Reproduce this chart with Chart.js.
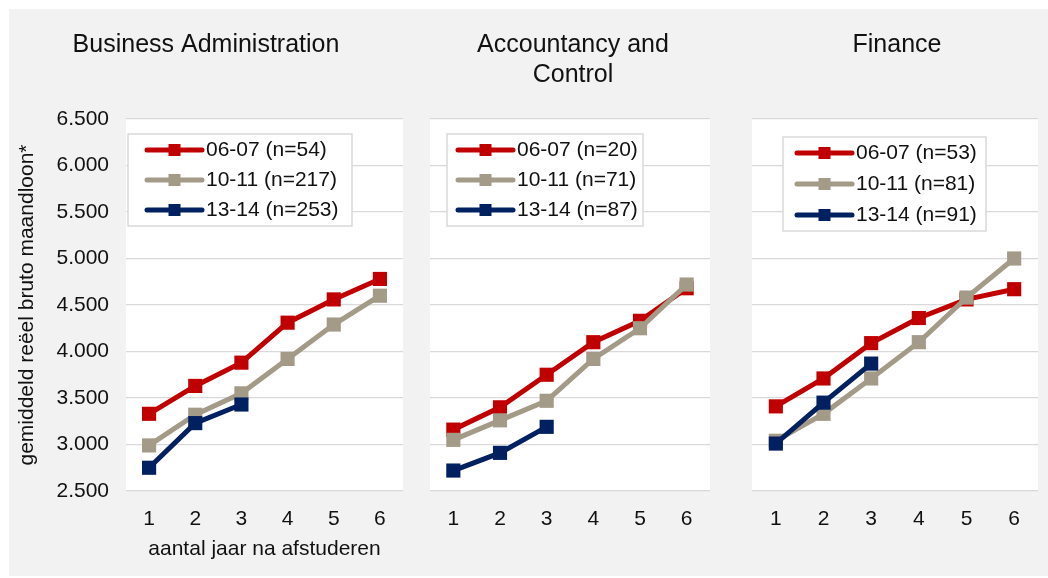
<!DOCTYPE html>
<html>
<head>
<meta charset="utf-8">
<script src="https://cdn.jsdelivr.net/npm/chart.js@4"></script>
<style>
  html, body { margin: 0; padding: 0; background: #fff; }
  #wrap { position: relative; width: 1048px; height: 578px; overflow: hidden; }
  #bg { position: absolute; left: 9px; top: 9px; width: 1039px; height: 567px; background: #f2f2f2; }
  canvas { position: absolute; top: 0; }
</style>
</head>
<body>
<div id="wrap">
  <div id="bg"></div>
  <canvas id="ba" width="414" height="578" style="left:0px"></canvas>
  <canvas id="ac" width="300" height="578" style="left:420px"></canvas>
  <canvas id="fi" width="308" height="578" style="left:740px"></canvas>
</div>
<script>
// years after graduation
const years = ['1', '2', '3', '4', '5', '6'];
const yTicks = [2500, 3000, 3500, 4000, 4500, 5000, 5500, 6000, 6500];

// Business Administration
const baLabels = ['06-07 (n=54)', '10-11 (n=217)', '13-14 (n=253)'];
const ba0607 = [3330, 3630, 3880, 4310, 4560, 4780];
const ba1011 = [2990, 3320, 3550, 3920, 4290, 4600];
const ba1314 = [2750, 3230, 3430];

// Accountancy and Control
const acLabels = ['06-07 (n=20)', '10-11 (n=71)', '13-14 (n=87)'];
const ac0607 = [3160, 3400, 3750, 4100, 4330, 4680];
const ac1011 = [3050, 3260, 3470, 3920, 4250, 4720];
const ac1314 = [2720, 2910, 3190];

// Finance
const fiLabels = ['06-07 (n=53)', '10-11 (n=81)', '13-14 (n=91)'];
const fi0607 = [3410, 3710, 4090, 4360, 4560, 4670];
const fi1011 = [3040, 3330, 3710, 4100, 4580, 5000];
const fi1314 = [3010, 3450, 3870];

const RED = '#c00000', GREY = '#a39a87', NAVY = '#002060';
const FONT = '"Liberation Sans", Arial, sans-serif';
const TXT = '#111111';
const GRID = '#d9d9d9';

Chart.defaults.font.family = FONT;
Chart.defaults.color = TXT;

const dotsep = v => String(v).replace(/\B(?=(\d{3})+(?!\d))/g, '.');

// white plot area behind the grid
const plotBg = {
  id: 'plotBg',
  beforeDraw(chart) {
    const a = chart.chartArea, ctx = chart.ctx;
    ctx.save();
    ctx.fillStyle = '#ffffff';
    ctx.fillRect(a.left, a.top, a.right - a.left, a.bottom - a.top);
    ctx.restore();
  }
};

// legend box inside the plot area, Excel style
const boxLegend = {
  id: 'boxLegend',
  afterDraw(chart, args, o) {
    const a = chart.chartArea, ctx = chart.ctx;
    const bx = a.left + o.x, by = a.top + o.y;
    ctx.save();
    ctx.fillStyle = '#ffffff';
    ctx.fillRect(bx, by, o.w, o.h);
    ctx.strokeStyle = GRID;
    ctx.lineWidth = 1.5;
    ctx.strokeRect(bx, by, o.w, o.h);
    chart.data.datasets.forEach((ds, i) => {
      const y = by + o.first + i * o.gap;
      const x0 = bx + o.lineX, x1 = x0 + 55;
      ctx.strokeStyle = ds.borderColor;
      ctx.lineWidth = 5;
      ctx.lineCap = 'round';
      ctx.beginPath();
      ctx.moveTo(x0, y);
      ctx.lineTo(x1, y);
      ctx.stroke();
      ctx.fillStyle = ds.borderColor;
      ctx.fillRect((x0 + x1) / 2 - 6, y - 6, 12, 12);
      ctx.fillStyle = TXT;
      ctx.font = '21px ' + FONT;
      ctx.textBaseline = 'middle';
      ctx.textAlign = 'left';
      ctx.fillText(ds.label, x1 + 4, y);
    });
    ctx.restore();
  }
};

function series(label, data, color, order) {
  return {
    label, data, order,
    borderColor: color,
    backgroundColor: color,
    borderWidth: 5,
    pointStyle: 'rect',
    pointRadius: 10,
    pointHoverRadius: 10,
    pointBorderWidth: 0,
    tension: 0
  };
}

function makePanel(id, title, labels, s1, s2, s3, cfg) {
  new Chart(document.getElementById(id), {
    type: 'line',
    data: {
      labels: years,
      datasets: [
        series(labels[0], s1, RED, 3),
        series(labels[1], s2, GREY, 2),
        series(labels[2], s3, NAVY, 1)
      ]
    },
    options: {
      responsive: false,
      animation: false,
      events: [],
      layout: { padding: cfg.pad },
      plugins: {
        legend: { display: false },
        tooltip: { enabled: false },
        title: {
          display: true,
          text: title,
          color: TXT,
          font: { size: 25, weight: 'normal', lineHeight: 1.2 },
          padding: { top: 30, bottom: cfg.titleBottom }
        },
        boxLegend: cfg.legend
      },
      scales: {
        x: {
          offset: true,
          grid: { display: false },
          border: { display: false },
          ticks: { padding: 8, font: { size: 21 }, color: TXT },
          title: {
            display: !!cfg.xTitle,
            text: cfg.xTitle || '',
            color: TXT,
            font: { size: 21 },
            padding: { top: 0, bottom: 16 }
          },
          afterFit(s) { s.height = 87; }
        },
        y: {
          min: yTicks[0],
          max: yTicks[yTicks.length - 1],
          afterBuildTicks(s) { s.ticks = yTicks.map(v => ({ value: v })); },
          grid: { color: GRID, lineWidth: 1.3, drawTicks: false },
          border: { display: false },
          ticks: {
            display: cfg.showY,
            padding: 17,
            font: { size: 21 },
            color: TXT,
            callback: v => dotsep(v)
          },
          title: {
            display: cfg.showY,
            text: 'gemiddeld reëel bruto maandloon*',
            color: TXT,
            font: { size: 21 },
            padding: { top: 6, bottom: 0 }
          },
          afterFit(s) { s.width = cfg.showY ? 117 : 0; }
        }
      }
    },
    plugins: [plotBg, boxLegend]
  });
}

makePanel('ba', 'Business Administration', baLabels, ba0607, ba1011, ba1314, {
  pad: { left: 9, right: 11, top: 0, bottom: 0 },
  titleBottom: 59,
  showY: true,
  xTitle: 'aantal jaar na afstuderen',
  legend: { x: 2, y: 15, w: 224, h: 92, lineX: 19, first: 16, gap: 30 }
});

makePanel('ac', ['Accountancy and', 'Control'], acLabels, ac0607, ac1011, ac1314, {
  pad: { left: 10, right: 4, top: 0, bottom: 0 },
  titleBottom: 29,
  showY: false,
  legend: { x: 17, y: 15, w: 196, h: 92, lineX: 11, first: 16, gap: 30 }
});

makePanel('fi', 'Finance', fiLabels, fi0607, fi1011, fi1314, {
  pad: { left: 12, right: 6, top: 0, bottom: 0 },
  titleBottom: 59,
  showY: false,
  legend: { x: 31, y: 18, w: 203, h: 94, lineX: 14, first: 16, gap: 31 }
});
</script>
</body>
</html>
